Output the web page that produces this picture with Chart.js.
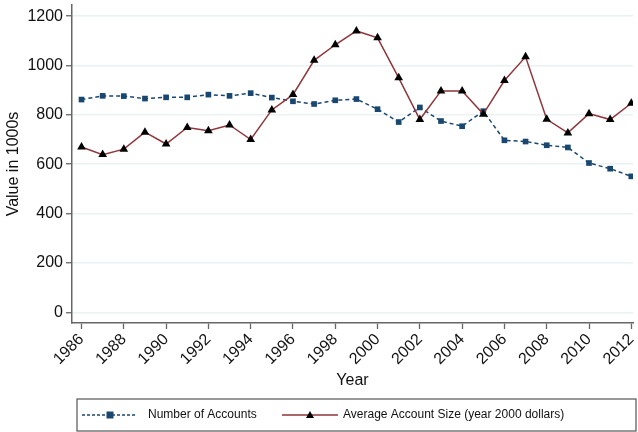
<!DOCTYPE html>
<html>
<head>
<meta charset="utf-8">
<script src="https://cdn.jsdelivr.net/npm/chart.js@4/dist/chart.umd.min.js"></script>
<style>
html,body{margin:0;padding:0;background:#fff;}
#wrap{width:638px;height:432px;position:relative;}
</style>
</head>
<body>
<div id="wrap"><canvas id="c" width="638" height="432"></canvas></div>
<script>
const years = [1986,1987,1988,1989,1990,1991,1992,1993,1994,1995,1996,1997,1998,1999,2000,2001,2002,2003,2004,2005,2006,2007,2008,2009,2010,2011,2012];
const numberOfAccounts = [862,877,876,866,871,871,882,877,888,870,855,844,859,864,823,771,830,775,754,815,697,692,677,668,605,582,551];
const avgAccountSize = [670,639,661,730,682,749,736,759,700,820,882,1021,1084,1140,1112,950,781,897,897,803,939,1035,782,727,805,781,847];
const yTicks = [0,200,400,600,800,1000,1200];
const xTicks = [1986,1988,1990,1992,1994,1996,1998,2000,2002,2004,2006,2008,2010,2012];
const seriesNames = ["Number of Accounts","Average Account Size (year 2000 dollars)"];

const BLUE = '#1a476f', RED = '#90353b', AXIS = '#666666', GRID = '#eaf2f3';
const FONT = '"Liberation Sans", Arial, sans-serif';

const legendPlugin = {
  id: 'boxLegend',
  afterDraw(chart) {
    const ctx = chart.ctx;
    const x0 = 77, y0 = 399, x1 = 636, y1 = 431;
    ctx.save();
    ctx.strokeStyle = '#555';
    ctx.lineWidth = 1.2;
    ctx.strokeRect(x0, y0, x1 - x0, y1 - y0);
    const cy = (y0 + y1) / 2;
    ctx.font = '12px ' + FONT;
    ctx.textBaseline = 'middle';
    // item 1
    ctx.strokeStyle = BLUE; ctx.lineWidth = 1.5; ctx.setLineDash([3,2]);
    ctx.beginPath(); ctx.moveTo(82, cy); ctx.lineTo(137, cy); ctx.stroke();
    ctx.setLineDash([]);
    ctx.fillStyle = BLUE; ctx.fillRect(106.5, cy - 3.5, 7, 7);
    ctx.fillStyle = '#111';
    ctx.fillText(seriesNames[0], 148, cy);
    // item 2
    ctx.strokeStyle = RED; ctx.lineWidth = 1.5;
    ctx.beginPath(); ctx.moveTo(282, cy); ctx.lineTo(338, cy); ctx.stroke();
    ctx.fillStyle = '#000';
    ctx.beginPath(); ctx.moveTo(310, cy - 4); ctx.lineTo(314, cy + 3); ctx.lineTo(306, cy + 3); ctx.closePath(); ctx.fill();
    ctx.fillStyle = '#111';
    ctx.fillText(seriesNames[1], 343, cy);
    ctx.restore();
  }
};

new Chart(document.getElementById('c'), {
  type: 'line',
  data: {
    datasets: [
      {
        label: seriesNames[0],
        data: years.map((y, i) => ({x: y, y: numberOfAccounts[i]})),
        borderColor: BLUE, backgroundColor: BLUE,
        borderWidth: 1.5, borderDash: [4, 3],
        pointStyle: 'rect', pointRadius: 4, pointBorderWidth: 0,
        pointBackgroundColor: BLUE, pointBorderColor: BLUE,
        tension: 0, order: 2
      },
      {
        label: seriesNames[1],
        data: years.map((y, i) => ({x: y, y: avgAccountSize[i]})),
        borderColor: RED, backgroundColor: '#000',
        borderWidth: 1.5,
        pointStyle: 'triangle', pointRadius: 5, pointBorderWidth: 0,
        pointBackgroundColor: '#000', pointBorderColor: '#000',
        tension: 0, order: 1
      }
    ]
  },
  options: {
    responsive: false,
    animation: false,
    devicePixelRatio: 1,
    layout: {padding: {top: 5, right: 2, bottom: 42, left: 0}},
    plugins: {legend: {display: false}, tooltip: {enabled: false}},
    scales: {
      x: {
        type: 'linear',
        min: 1985.55, max: 2012.08,
        afterBuildTicks(scale) { scale.ticks = xTicks.map(v => ({value: v})); },
        afterFit(scale) { scale.height = 67; scale.paddingLeft = 0; scale.paddingRight = 0; },
        ticks: {
          callback: v => String(v),
          maxRotation: 45, minRotation: 45, autoSkip: false,
          color: '#111', font: {family: FONT, size: 16}, padding: 1
        },
        grid: {drawOnChartArea: false, drawTicks: true, tickLength: 6, tickColor: AXIS, tickWidth: 1.3},
        border: {color: AXIS, width: 1.5},
        title: {display: true, text: 'Year', color: '#111', font: {family: FONT, size: 16}, padding: {top: 0, bottom: 0}}
      },
      y: {
        min: -43, max: 1245,
        afterBuildTicks(scale) { scale.ticks = yTicks.map(v => ({value: v})); },
        afterFit(scale) { scale.width = 72; scale.paddingTop = 0; scale.paddingBottom = 0; },
        ticks: {callback: v => String(v), color: '#111', font: {family: FONT, size: 16}, padding: 3},
        grid: {color: GRID, lineWidth: 1.5, drawTicks: true, tickLength: 6, tickColor: AXIS, tickWidth: 1.3},
        border: {color: AXIS, width: 1.5},
        title: {display: true, text: 'Value in 1000s', color: '#111', font: {family: FONT, size: 16}, padding: {top: 4, bottom: 2}}
      }
    }
  },
  plugins: [legendPlugin]
});
</script>
</body>
</html>
